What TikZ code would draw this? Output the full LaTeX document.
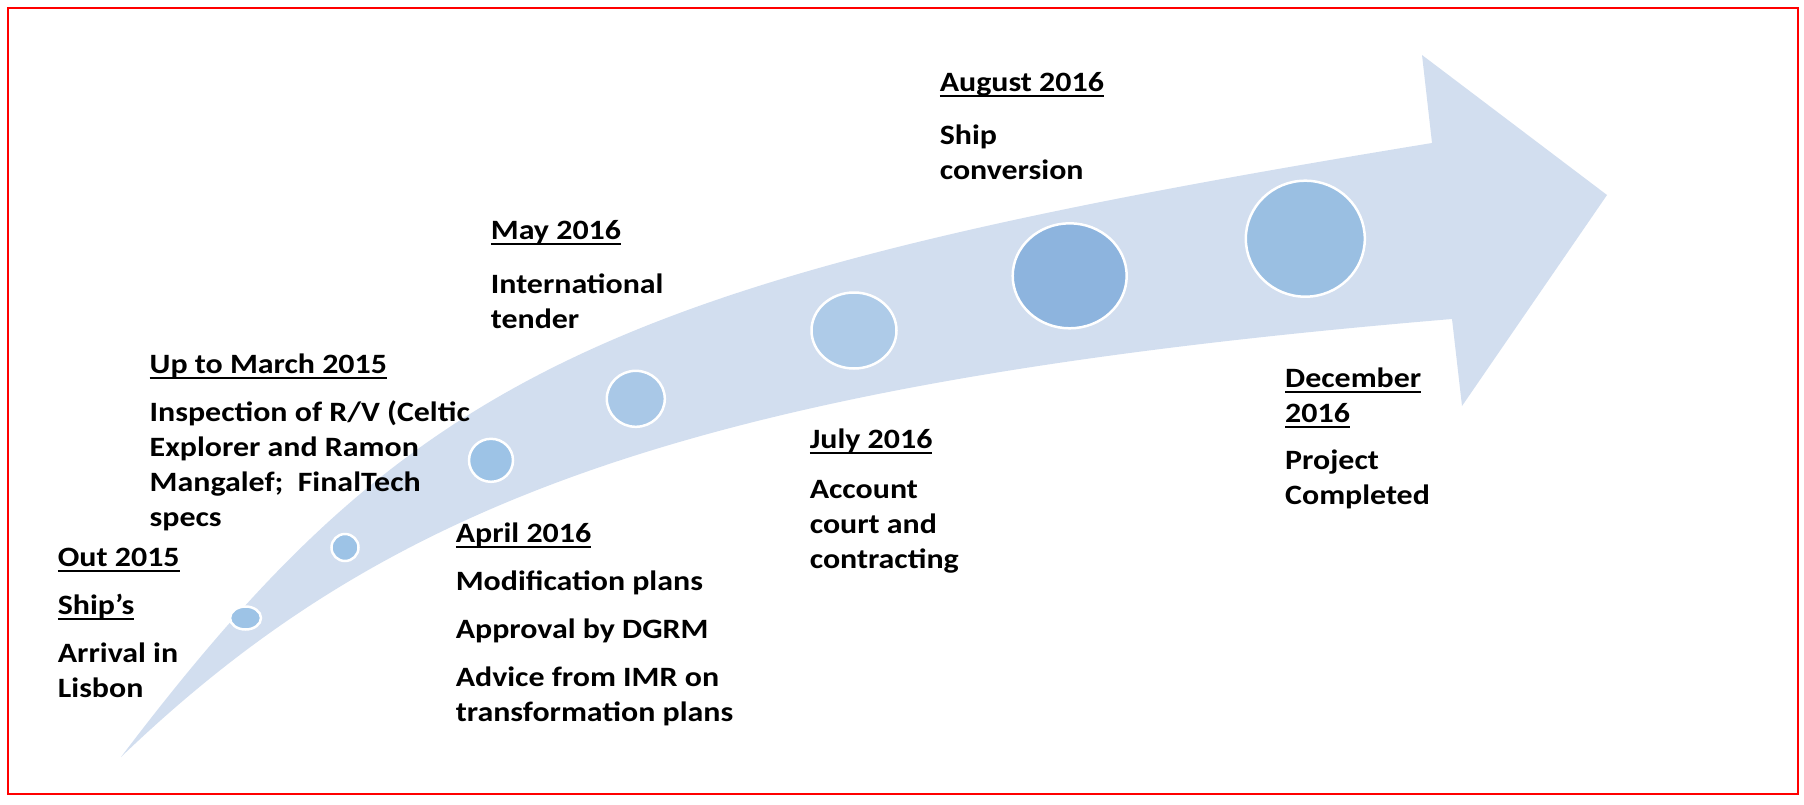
\documentclass[tikz,border=0pt]{standalone}
\usepackage{fontspec}
\setmainfont{Carlito}[FakeStretch=1.14]
\usetikzlibrary{shapes.geometric}
\definecolor{band}{HTML}{D2DEEF}
\definecolor{frame}{HTML}{FF0000}
\definecolor{dotA}{HTML}{9DC3E6}
\definecolor{dotB}{HTML}{A9C8E7}
\definecolor{dotC}{HTML}{AECBE8}
\definecolor{dotD}{HTML}{8DB4DE}
\definecolor{dotE}{HTML}{9ABFE2}
\newcommand{\hd}[1]{{\setbox0=\hbox{#1}\rlap{\rule[-5.6pt]{\wd0}{2.1pt}}\box0}}
\tikzset{
  lbl/.style={anchor=base west, align=left, inner sep=0pt, text=black,
              font=\fontsize{28}{35}\selectfont\bfseries},
  dot/.style={ellipse, draw=white, line width=2.5pt, inner sep=0pt}
}
\begin{document}
\begin{tikzpicture}[x=1pt,y=-1pt]
\useasboundingbox (0,0) rectangle (1804,804);
% frame
\draw[frame, line width=2.5pt] (8,8) rectangle (1798,794);
% curved arrow
\fill[band] (121,757) .. controls (415,369) and (612,277) .. (1432,143)
  -- (1422,55) -- (1607,195) -- (1462,406) -- (1452,319)
  .. controls (686,383) and (383,506) .. (121,757) -- cycle;
% dots
\node[dot, fill=dotA, minimum width=31pt, minimum height=23pt] (c1) at (245.5,618) {};
\node[dot, fill=dotA, minimum width=27pt, minimum height=27pt] (c2) at (345,547.5) {};
\node[dot, fill=dotA, minimum width=44pt, minimum height=43pt] (c3) at (491,460.3) {};
\node[dot, fill=dotB, minimum width=58pt, minimum height=56pt] (c4) at (635.8,398.8) {};
\node[dot, fill=dotC, minimum width=85pt, minimum height=76pt] (c5) at (854,330.5) {};
\node[dot, fill=dotD, minimum width=114pt, minimum height=105pt] (c6) at (1069.7,275.8) {};
\node[dot, fill=dotE, minimum width=119pt, minimum height=116pt] (c7) at (1305.3,238.7) {};
% labels (anchored at the baseline of their last line)
\node[lbl] (tOut) at (57.7,697.3) {\hd{Out 2015}\\[13pt]\hd{Ship’s}\\[13pt]Arrival in\\Lisbon};
\node[lbl] (tMar) at (149.5,526) {\hd{Up to March 2015}\\[13pt]Inspection of R/V (Celtic\\Explorer and Ramon\\Mangalef;~ FinalTech\\specs};
\node[lbl] (tApr) at (455.6,721.7) {\hd{April 2016}\\[13pt]Modification plans\\[13pt]Approval by DGRM\\[13pt]Advice from IMR on\\transformation plans};
\node[lbl] (tMay) at (490.7,328) {\hd{May 2016}\\[19pt]International\\tender};
\node[lbl] (tJul) at (809.6,568) {\hd{July 2016}\\[15pt]Account\\court and\\contracting};
\node[lbl] (tAug) at (939.6,179) {\hd{August 2016}\\[18pt]Ship\\conversion};
\node[lbl] (tDec) at (1285,504.3) {\hd{December}\\\hd{2016}\\[12pt]Project\\Completed};
\end{tikzpicture}
\end{document}
